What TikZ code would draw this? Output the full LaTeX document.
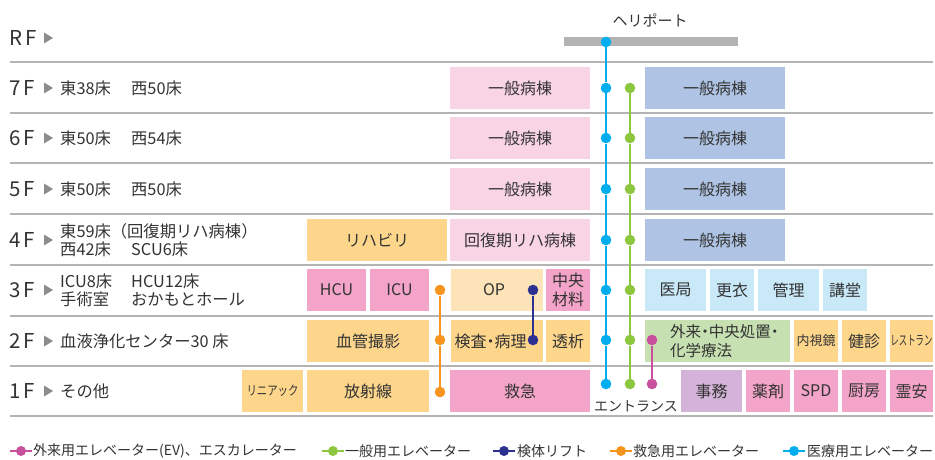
\documentclass[tikz,border=0pt]{standalone}
\usepackage{graphicx}
\usepackage{fontspec}
\setmainfont{Noto Sans CJK JP}
\definecolor{txt}{HTML}{333333}
\definecolor{sepgray}{HTML}{B4B4B4}
\definecolor{trigray}{HTML}{8C8C8C}
\definecolor{helgray}{HTML}{B3B3B3}
\definecolor{cpinkL}{HTML}{F9D4E5}
\definecolor{cperi}{HTML}{AFC4E4}
\definecolor{corange}{HTML}{FDD68C}
\definecolor{copL}{HTML}{FDE4B8}
\definecolor{cpink}{HTML}{F3A4C8}
\definecolor{clav}{HTML}{D3B3D7}
\definecolor{clblue}{HTML}{C9E9F9}
\definecolor{cgreen}{HTML}{C6E0B1}
\definecolor{ecyan}{HTML}{00AEEF}
\definecolor{egreen}{HTML}{8DC63F}
\definecolor{eorange}{HTML}{F7941D}
\definecolor{enavy}{HTML}{2E3192}
\definecolor{emag}{HTML}{C9509C}
\newcommand\fbx[7]{\node[bx,fill=#6,minimum width={#3-#2},minimum height={#5-#4}] (#1) at ({(#2+#3)/2},{(#4+#5)/2}) {#7};}
\newcommand\nkt{\makebox[0.5em][c]{・}}
\newcommand\ftri[1]{\fill[trigray] (44,#1-5.5) -- (53,#1) -- (44,#1+5.5) -- cycle;}
\begin{document}
\begin{tikzpicture}[x=1pt,y=-1pt,
  bx/.style={rectangle,inner sep=0pt,draw=none,text=txt,font=\fontsize{16}{19}\selectfont,align=center},
  lbl/.style={inner sep=0pt,text=txt,font=\fontsize{16}{19}\selectfont,align=center},
  sep/.style={draw=sepgray,line width=1.3pt},
  flr/.style={anchor=west,inner sep=0pt,text=txt,font=\fontsize{20.5}{20.5}\selectfont},
  ftxt/.style={anchor=west,inner sep=0pt,text=txt,font=\fontsize{16.3}{18}\selectfont,align=left},
  edot/.style={circle,inner sep=0pt,minimum size=10.6pt},
  eline/.style={line width=2pt},
  leg/.style={anchor=west,inner sep=0pt,text=txt,font=\fontsize{14}{14}\selectfont},
]
\useasboundingbox (0,0) rectangle (935,460);
\fill[white] (0,0) rectangle (935,460);
% separators
\foreach \yy in {62,113,163,214,265,316,366,416} {\draw[sep] (10,\yy) -- (933,\yy);}
% floor labels
\node[flr] (fR) at (9,38) {R\kern3pt F}; \ftri{38}
\node[flr] (f7) at (9,88) {7\kern3pt F}; \ftri{88}
\node[flr] (f6) at (9,138) {6\kern3pt F}; \ftri{138}
\node[flr] (f5) at (9,189) {5\kern3pt F}; \ftri{189}
\node[flr] (f4) at (9,240) {4\kern3pt F}; \ftri{240}
\node[flr] (f3) at (9,290) {3\kern3pt F}; \ftri{290}
\node[flr] (f2) at (9,341) {2\kern3pt F}; \ftri{341}
\node[flr] (f1) at (9,391) {1\kern3pt F}; \ftri{391}
\node[ftxt] (t7) at (60,88) {\makebox[71pt][l]{東38床}西50床};
\node[ftxt] (t6) at (60,138) {\makebox[71pt][l]{東50床}西54床};
\node[ftxt] (t5) at (60,189) {\makebox[71pt][l]{東50床}西50床};
\node[ftxt] (t4) at (60,240) {東59床（回復期リハ病棟）\\\makebox[71pt][l]{西42床}SCU6床};
\node[ftxt] (t3) at (60,290) {\makebox[71pt][l]{ICU8床}HCU12床\\\makebox[71pt][l]{手術室}おかもとホール};
\node[ftxt] (t2) at (60,341) {血液浄化センター30 床};
\node[ftxt] (t1) at (60,391) {その他};
% heliport
\node[inner sep=0pt,fill=helgray,minimum width=174,minimum height=9] (heli) at (651,41.5) {};
\node[lbl,font=\fontsize{15}{15}\selectfont] (helit) at (650,20) {ヘリポート};
% 7F-5F
\fbx{p7}{450}{590}{67}{109}{cpinkL}{一般病棟}
\fbx{b7}{645}{785}{67}{109}{cperi}{一般病棟}
\fbx{p6}{450}{590}{117}{159}{cpinkL}{一般病棟}
\fbx{b6}{645}{785}{117}{159}{cperi}{一般病棟}
\fbx{p5}{450}{590}{168}{210}{cpinkL}{一般病棟}
\fbx{b5}{645}{785}{168}{210}{cperi}{一般病棟}
% 4F
\fbx{reha}{307}{447}{219}{261}{corange}{リハビリ}
\fbx{kaif}{450}{590}{219}{261}{cpinkL}{回復期リハ病棟}
\fbx{b4}{645}{785}{219}{261}{cperi}{一般病棟}
% 3F
\fbx{hcu}{307}{366}{269}{311}{cpink}{HCU}
\fbx{icu}{370}{429}{269}{311}{cpink}{ICU}
\fbx{op}{451}{543}{269}{311}{copL}{}
\node[lbl] (opt) at (494,290) {OP};
\fbx{chuo}{546}{590}{269}{311}{cpink}{中央\\材料}
\fbx{ikyo}{645}{706}{269}{311}{clblue}{医局}
\fbx{koui}{710}{754}{269}{311}{clblue}{更衣}
\fbx{kanri}{758}{819}{269}{311}{clblue}{管理}
\fbx{kodo}{823}{867}{269}{311}{clblue}{講堂}
% 2F
\fbx{kekk}{307}{429}{320}{362}{corange}{血管撮影}
\fbx{kens}{451}{543}{320}{362}{corange}{}
\node[lbl] (kenst) at (490.5,341) {検査\nkt 病理};
\fbx{tous}{546}{590}{320}{362}{corange}{透析}
\fbx{gair}{645}{790}{320}{362}{cgreen}{}
\node[lbl,anchor=west,align=left,font=\fontsize{15.5}{19}\selectfont] (gairt) at (670,341) {外来\nkt 中央処置\nkt\\化学療法};
\fbx{naish}{794}{838}{320}{362}{corange}{\fontsize{13}{13}\selectfont 内視鏡}
\fbx{kensh}{842}{886}{320}{362}{corange}{健診}
\fbx{rest}{890}{933}{320}{362}{corange}{\scalebox{0.62}[1]{\fontsize{13.5}{13.5}\selectfont レストラン}}
% 1F
\fbx{lin}{242}{303}{370}{412}{corange}{\scalebox{0.8}[1]{\fontsize{13}{13}\selectfont リニアック}}
\fbx{hosh}{307}{429}{370}{412}{corange}{放射線}
\fbx{kyuk}{450}{590}{370}{412}{cpink}{救急}
\fbx{jimu}{681}{742}{370}{412}{clav}{事務}
\fbx{yaku}{746}{790}{370}{412}{cpink}{薬剤}
\fbx{spd}{794}{838}{370}{412}{cpink}{SPD}
\fbx{chub}{842}{886}{370}{412}{cpink}{厨房}
\fbx{reia}{890}{933}{370}{412}{cpink}{霊安}
\node[lbl,font=\fontsize{14}{14}\selectfont] (entr) at (636,406) {エントランス};
% elevators: cyan
\foreach \nm/\yy in {cH/42,c7/88,c6/138,c5/189,c4/240,c3/290,c2/340,c1/384}{\node[edot,fill=ecyan] (\nm) at (606,\yy) {};}
\draw[eline,ecyan] (cH) -- (c7) -- (c6) -- (c5) -- (c4) -- (c3) -- (c2) -- (c1);
% green
\foreach \nm/\yy in {g7/88,g6/138,g5/189,g4/240,g3/290,g2/340,g1/384}{\node[edot,fill=egreen] (\nm) at (630,\yy) {};}
\draw[eline,egreen] (g7) -- (g6) -- (g5) -- (g4) -- (g3) -- (g2) -- (g1);
% orange
\foreach \nm/\yy in {o3/290,o2/340,o1/392}{\node[edot,fill=eorange] (\nm) at (440,\yy) {};}
\draw[eline,eorange] (o3) -- (o2) -- (o1);
% navy
\foreach \nm/\yy in {n3/290,n2/340}{\node[edot,fill=enavy] (\nm) at (533,\yy) {};}
\draw[eline,enavy] (n3) -- (n2);
% magenta
\foreach \nm/\yy in {m2/340,m1/384}{\node[edot,fill=emag] (\nm) at (652,\yy) {};}
\draw[eline,emag] (m2) -- (m1);
% legend
\foreach \nm/\xx/\cc in {lm/21/emag,lg/333/egreen,ln/504/enavy,lo/621/eorange,lc/794/ecyan}{
  \coordinate (\nm a) at (\xx-11,451); \coordinate (\nm b) at (\xx+11,451);
  \draw[eline,\cc,line width=1.8pt] (\nm a) -- (\nm b);
  \node[edot,fill=\cc,minimum size=10pt] (\nm d) at (\xx,451) {};}
\node[leg] (lmt) at (33,451) {外来用エレベーター(EV)、エスカレーター};
\node[leg] (lgt) at (345,451) {一般用エレベーター};
\node[leg] (lnt) at (517,451) {検体リフト};
\node[leg] (lot) at (633,451) {救急用エレベーター};
\node[leg] (lct) at (807,451) {医療用エレベーター};
\end{tikzpicture}
\end{document}
